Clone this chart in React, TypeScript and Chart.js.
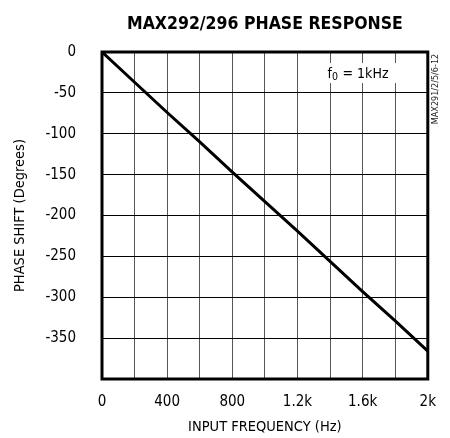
import React, { useEffect, useRef } from "react";
import { Chart, registerables } from "chart.js";

Chart.register(...registerables);

const frequencies = [0, 200, 400, 600, 800, 1000, 1200, 1400, 1600, 1800, 2000];
const phaseShift = [0, -37, -74, -110, -147, -183, -219, -256, -293, -329, -366];
const freqTickValues = [0, 400, 800, 1200, 1600, 2000];
const freqTickLabels = ["0", "400", "800", "1.2k", "1.6k", "2k"];
const hiddenPhaseTicks = [-400];

const chartTitle = "MAX292/296 PHASE RESPONSE";
const xTitle = "INPUT FREQUENCY (Hz)";
const yTitle = "PHASE SHIFT (Degrees)";
const noteMain = "f";
const noteSub = "0";
const noteRest = " = 1kHz";
const sideCode = "MAX291/2/5/6-12";

const NARROW = "'Liberation Sans Narrow', 'DejaVu Sans Condensed', 'Arial Narrow', sans-serif";
const COND_BOLD = "'DejaVu Sans Condensed', 'Liberation Sans Narrow', sans-serif";

const decorPlugin = {
  id: "decor",
  afterDatasetsDraw(chart: any) {
    const { ctx, chartArea, scales } = chart;
    const x = scales.x;
    const y = scales.y;
    ctx.save();
    // title centred over the plot area
    ctx.fillStyle = "#000";
    ctx.textAlign = "center";
    ctx.textBaseline = "middle";
    ctx.font = `bold 17.5px ${COND_BOLD}`;
    ctx.fillText(chartTitle, (chartArea.left + chartArea.right) / 2, chartArea.top - 28);
    // note box
    const bx0 = x.getPixelForValue(1385);
    const bx1 = x.getPixelForValue(1830);
    const by0 = y.getPixelForValue(-13.5);
    const by1 = y.getPixelForValue(-38);
    ctx.fillStyle = "#ffffff";
    ctx.fillRect(bx0, by0, bx1 - bx0, by1 - by0);
    // note text
    ctx.fillStyle = "#000";
    ctx.textBaseline = "alphabetic";
    ctx.textAlign = "left";
    let tx = x.getPixelForValue(1385);
    const ty = y.getPixelForValue(-31.8);
    ctx.font = `14px ${NARROW}`;
    ctx.fillText(noteMain, tx, ty);
    tx += ctx.measureText(noteMain).width;
    ctx.font = `10.5px ${NARROW}`;
    ctx.fillText(noteSub, tx, ty + 2);
    tx += ctx.measureText(noteSub).width + 0.5;
    ctx.font = `14px ${NARROW}`;
    ctx.fillText(noteRest, tx, ty);
    // frame
    ctx.strokeStyle = "#000";
    ctx.lineWidth = 3;
    ctx.strokeRect(chartArea.left, chartArea.top, chartArea.right - chartArea.left, chartArea.bottom - chartArea.top);
    // side code
    ctx.translate(chartArea.right + 8, chartArea.top + 37);
    ctx.rotate(-Math.PI / 2);
    ctx.textAlign = "center";
    ctx.textBaseline = "middle";
    ctx.fillStyle = "#222";
    ctx.font = `9px ${NARROW}`;
    ctx.fillText(sideCode, 0, 0);
    ctx.restore();
  },
};

export default function App() {
  const ref = useRef<HTMLCanvasElement | null>(null);
  useEffect(() => {
    if (!ref.current) return;
    const chart = new Chart(ref.current, {
      type: "line",
      data: {
        datasets: [
          {
            data: frequencies.map((f, i) => ({ x: f, y: phaseShift[i] })),
            borderColor: "#000",
            borderWidth: 3,
            pointRadius: 0,
            tension: 0,
            fill: false,
          },
        ],
      },
      options: {
        animation: false,
        responsive: false,
        layout: { padding: { left: 0, right: 19, top: 52, bottom: 2 } },
        plugins: {
          legend: { display: false },
          tooltip: { enabled: false },
          title: { display: false },
        },
        scales: {
          x: {
            type: "linear",
            min: 0,
            max: 2000,
            afterFit: (s: any) => {
              s.height = 57;
            },
            ticks: {
              stepSize: 200,
              autoSkip: false,
              maxRotation: 0,
              padding: 14,
              color: "#000",
              font: { family: NARROW, size: 15 },
              callback: (v: any) => {
                const i = freqTickValues.indexOf(Number(v));
                return i >= 0 ? freqTickLabels[i] : "";
              },
            },
            grid: { color: "#555", lineWidth: 1, drawTicks: false },
            border: { display: false },
            title: {
              display: true,
              text: xTitle,
              color: "#000",
              font: { family: NARROW, size: 14.5, lineHeight: 1.2 },
              padding: { top: 0, bottom: 0 },
            },
          },
          y: {
            type: "linear",
            min: -400,
            max: 0,
            afterFit: (s: any) => {
              s.width = 102;
            },
            ticks: {
              stepSize: 50,
              autoSkip: false,
              padding: 26,
              color: "#000",
              font: { family: NARROW, size: 15 },
              callback: (v: any) => (hiddenPhaseTicks.includes(Number(v)) ? "" : String(v)),
            },
            grid: { color: "#000", lineWidth: 1, drawTicks: false },
            border: { display: false },
            title: {
              display: true,
              text: yTitle,
              color: "#000",
              font: { family: NARROW, size: 14.5, lineHeight: 1.2 },
              padding: { top: 12, bottom: 0 },
            },
          },
        },
      },
      plugins: [decorPlugin],
    } as any);
    return () => chart.destroy();
  }, []);
  return (
    <div style={{ position: "absolute", left: 0, top: 0, width: 450, height: 438, background: "#fff" }}>
      <canvas ref={ref} width={450} height={438} style={{ display: "block" }} />
    </div>
  );
}
